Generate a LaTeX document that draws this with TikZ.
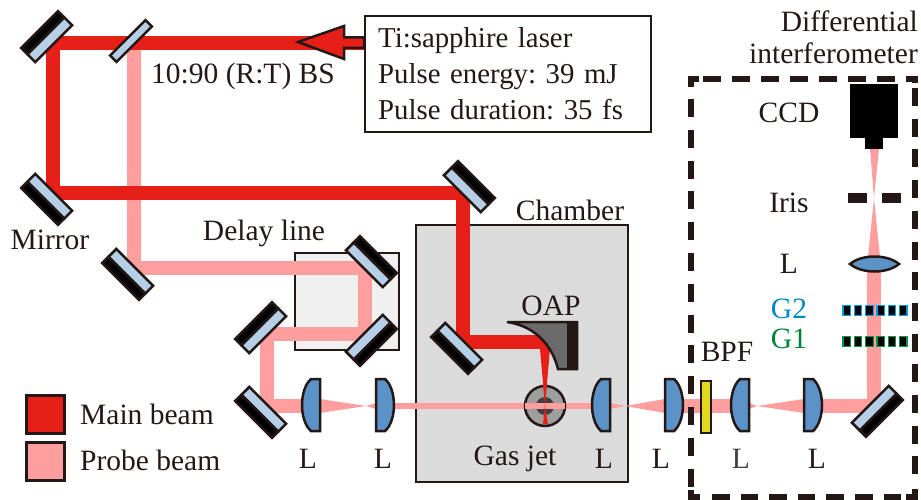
\documentclass[tikz,border=0pt]{standalone}
\usepackage{fontspec}
\setmainfont{Liberation Serif}
\definecolor{ink}{HTML}{231815}
\definecolor{mainbeam}{HTML}{E71F19}
\definecolor{probebeam}{HTML}{FF9E9E}
\definecolor{coat}{HTML}{B5CFE6}
\definecolor{glass}{HTML}{5B93C9}
\definecolor{gtwo}{HTML}{00A0E9}
\definecolor{gone}{HTML}{009944}
\definecolor{filter}{HTML}{E0D81C}
\tikzset{
	beam/.style={line width=14pt,line join=miter},
	lbl/.style={text=ink,inner sep=0pt,font=\fontsize{29.5}{34}\selectfont\frenchspacing},
	edge/.style={ink,line width=6pt},
	mirror/.pic={
		\fill[black,draw=ink,line width=2.5pt](-26,-10)rectangle(26,-19);
		\draw[fill=coat,draw=ink,line width=2.5pt](-26,1)rectangle(26,-10);
	},
	lens/.pic={
		\draw[fill=glass,draw=ink,line width=2.5pt](0,-26)--(9,-26)..controls(15,-21)and(18,-10)..(18,0)..controls(18,10)and(15,21)..(9,26)--(0,26)--cycle;
	},
	grating/.pic={
		\foreach \k in {0,...,5}
			\draw[fill=black,line width=1.2pt](\k*11.3,0)rectangle(\k*11.3+7.5,10);
	}
}
\begin{document}
\begin{tikzpicture}[x=1pt,y=-1pt]
	\useasboundingbox(0,0)rectangle(921,500);

	\coordinate(S)at(365,43);
	\coordinate(M1)at(53,43);
	\coordinate(M2)at(53,193);
	\coordinate(M3)at(463,193);
	\coordinate(M4)at(463,342);
	\coordinate(OP)at(556,342);
	\coordinate(BS)at(134,43);
	\coordinate(M5)at(134,268);
	\coordinate(M6)at(365,268);
	\coordinate(M7)at(365,334);
	\coordinate(M8)at(267,334);
	\coordinate(M9)at(267,406);
	\coordinate(M10)at(874,406);
	\coordinate(F)at(545,406);

	% boxes
	\draw[fill=black!14!white,draw=ink,line width=2.5pt](416,225)rectangle(628,482);
	\draw[fill=black!6!white,draw=ink,line width=2.5pt](295,253)rectangle(399,350);

	% beams
	\draw[beam,probebeam](BS)--(M5)--(M6)--(M7)--(M8)--(M9)--(320,406);
	\fill[probebeam](320,399)--(366,406)--(376,403)--(376,409)--(366,406)--(320,413)--cycle;
	\draw[probebeam,line width=6pt](376,406)--(610,406);
	\fill[probebeam](610,403)--(625,406)--(665,399)--(665,413)--(625,406)--(610,409)--cycle;
	\draw[beam,probebeam](665,406)--(749,406);
	\fill[white](749,399)rectangle(757,413);
	\fill[probebeam](749,403)--(757,406)--(804,399)--(804,413)--(757,406)--(749,409)--cycle;
	\draw[beam,probebeam](804,406)--(M10)--(874,257);
	\fill[probebeam](868,257)--(874,198)--(870,149)--(879,149)--(874,198)--(880,257)--cycle;

	\draw[beam,mainbeam](S)--(M1)--(M2)--(M3)--(M4)--(OP);
	\fill[mainbeam](540,349)--(550,349)--(545,406)--(548,424)--(543,424)--(545,406)--cycle;

	% gas jet
	\draw[fill=black!38!white,draw=ink,line width=2.5pt](F)circle(20);
	\fill[black!75!white](F)circle(9);
	\draw[probebeam,line width=6pt](525,406)--(565,406);
	\fill[mainbeam](543,385)--(547,385)--(545,406)--(548,424)--(543,424)--(545,406)--cycle;

	% OAP
	\draw[fill=black!58!white,draw=ink,line width=2.5pt,line join=miter](507,322)--(577,322)--(577,369)--(558,369)..controls(552,345)and(535,326)..(507,322)--cycle;
	\fill[ink](567,322)rectangle(577,369);

	% optics
	\pic[rotate=45]at(M1){mirror};
	\pic[rotate=135]at(M2){mirror};
	\pic[rotate=-45]at(M3){mirror};
	\pic[rotate=135]at(M4){mirror};
	\pic[rotate=135]at(M5){mirror};
	\pic[rotate=-45]at(M6){mirror};
	\pic[rotate=-135]at(M7){mirror};
	\pic[rotate=45]at(M8){mirror};
	\pic[rotate=135]at(M9){mirror};
	\pic[rotate=-135]at(871,405){mirror};
	\node(BSplate)[rotate=45,draw=ink,fill=coat,line width=2.5pt,minimum width=50pt,minimum height=9pt,inner sep=0pt]at(131,41){};

	\pic[xscale=-1]at(320,405){lens};
	\pic at(376,405){lens};
	\pic[xscale=-1]at(610,405){lens};
	\pic at(665,405){lens};
	\pic[xscale=-1]at(749,405){lens};
	\pic at(804,405){lens};
	\draw[fill=glass,draw=ink,line width=2.5pt](850,264)..controls(862,254)and(887,254)..(899,264)..controls(887,274)and(862,274)..(850,264)--cycle;

	\draw[fill=filter,draw=ink,line width=2.5pt](701,381)rectangle(711,433);

	% detector parts
	\fill[black](850,84)rectangle(898,138);
	\fill[black](865,138)rectangle(883,149);
	\fill[ink](848,193)rectangle(867,203);
	\fill[ink](882,193)rectangle(901,203);
	\pic[draw=gtwo]at(843,305.5){grating};
	\pic[draw=gone]at(843,336.5){grating};

	% dashed box
	\draw[edge,dash pattern=on 18pt off 11pt](703,79)--(897,79);
	\draw[edge,dash pattern=on 17.5pt off 11.1pt](712,497)--(902,497);
	\draw[edge,dash pattern=on 18pt off 12.8pt](691,99)--(691,488);
	\draw[edge,dash pattern=on 18pt off 12.7pt](915,88)--(915,478);
	\draw[edge](699,79)--(691,79)--(691,87);
	\draw[edge](906,79)--(915,79)--(915,83);
	\draw[edge](691,490)--(691,497)--(700,497);
	\draw[edge](906,497)--(915,497)--(915,489);

	% laser
	\draw[fill=white,draw=ink,line width=2.5pt](365,16)rectangle(651,132);
	\draw[fill=mainbeam,draw=ink,line width=2.5pt,line join=miter](298,42)--(344,26)--(344,37.5)--(364,37.5)--(364,48)--(344,48)--(344,59)--cycle;
	\node(laser)[lbl,align=left,anchor=north west,text width=270pt,font=\fontsize{28.8}{36}\selectfont\frenchspacing]at(378,27){Ti:sapphire laser\\Pulse energy: 39 mJ\\Pulse duration: 35 fs};

	% legend
	\node(mainkey)[draw=ink,fill=mainbeam,line width=3pt,minimum size=38pt,inner sep=0pt]at(45.5,414.5){};
	\node(probekey)[draw=ink,fill=probebeam,line width=3pt,minimum size=38pt,inner sep=0pt]at(45.5,461){};
	\node(mainlbl)[lbl,anchor=west]at(80,414){Main beam};
	\node(probelbl)[lbl,anchor=west]at(80,460){Probe beam};

	% labels
	\node(bslbl)[lbl,anchor=west]at(151,76){10:90 (R:T) BS};
	\node(mirrorlbl)[lbl]at(50,240){Mirror};
	\node(delaylbl)[lbl]at(264,233){Delay line};
	\node(chamberlbl)[lbl]at(570,210){Chamber};
	\node(oaplbl)[lbl]at(551,306){OAP};
	\node(jetlbl)[lbl]at(515,459){Gas jet};
	\node(bpflbl)[lbl]at(727,352){BPF};
	\node(ccdlbl)[lbl]at(789,113){CCD};
	\node(irislbl)[lbl]at(789,203){Iris};
	\node(l7)[lbl]at(789,264){L};
	\node(g2lbl)[lbl,text=gtwo!85!black]at(789,309){G2};
	\node(g1lbl)[lbl,text=gone!85!black]at(789,339){G1};
	\node(difflbl)[lbl,align=right,anchor=north east,font=\fontsize{29.5}{32}\selectfont\frenchspacing]at(918,11){Differential\\interferometer};
	\node(l1)[lbl]at(308,459){L};
	\node(l2)[lbl]at(383,459){L};
	\node(l3)[lbl]at(604,459){L};
	\node(l4)[lbl]at(661,459){L};
	\node(l5)[lbl,text=black!75!white]at(741,459){L};
	\node(l6)[lbl]at(817,459){L};
\end{tikzpicture}
\end{document}
